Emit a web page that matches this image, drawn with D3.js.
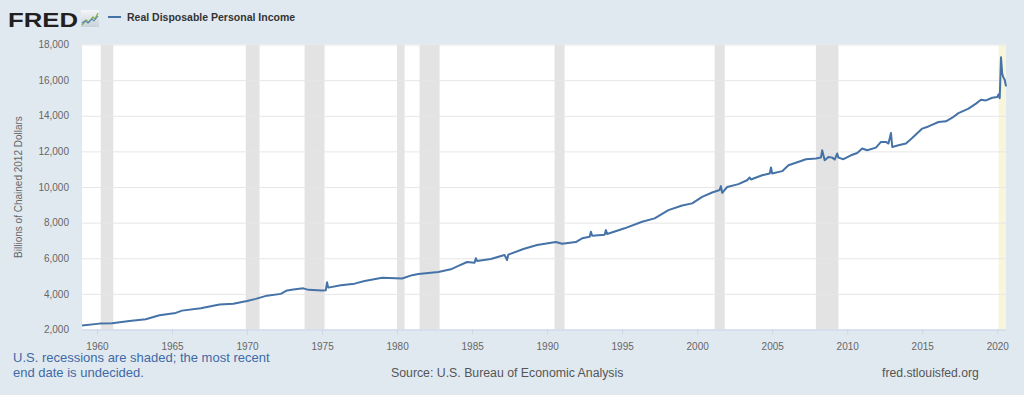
<!DOCTYPE html>
<html>
<head>
<meta charset="utf-8">
<script src="https://cdn.jsdelivr.net/npm/d3@7"></script>
<style>
  body { margin: 0; background: #e1e9f0; }
  svg { display: block; font-family: "Liberation Sans", Arial, Helvetica, sans-serif; }
</style>
</head>
<body>
<svg id="chart" width="1024" height="395"></svg>
<script>
var seriesName = "Real Disposable Personal Income";
var yTitle = "Billions of Chained 2012 Dollars";

var months = [
  "1959-01","1960-03","1961-01","1962-03","1963-04","1964-03","1965-04","1965-09",
  "1966-12","1968-03","1969-02","1970-01","1970-08","1971-05","1972-04","1972-09",
  "1973-02","1973-10","1974-02","1975-01","1975-04","1975-05","1975-06","1976-04",
  "1977-03","1977-11","1979-01","1979-12","1980-05","1981-01","1981-06","1982-10",
  "1983-08","1984-02","1984-09","1985-03","1985-04","1985-05","1986-04","1987-03",
  "1987-05","1987-06","1988-06","1989-05","1990-08","1991-01","1991-12","1992-05",
  "1992-11","1992-12","1993-01","1993-11","1993-12","1994-01","1995-03","1996-05",
  "1997-03","1998-02","1999-01","1999-09","2000-05","2001-01","2001-07","2001-08",
  "2001-09","2002-01","2002-10","2003-05","2003-07","2003-08","2004-05","2004-11",
  "2004-12","2005-01","2005-09","2006-02","2006-12","2007-04","2007-12","2008-04",
  "2008-05","2008-07","2008-10","2009-01","2009-03","2009-05","2009-06","2009-10",
  "2010-04","2010-09","2011-01","2011-05","2011-12","2012-04","2012-08","2012-10",
  "2012-12","2013-01","2013-06","2013-12","2014-05","2015-01","2015-06","2016-02",
  "2016-08","2017-01","2017-06","2018-02","2018-08","2018-12","2019-04","2019-09",
  "2020-01","2020-02","2020-03","2020-04","2020-05","2020-06","2020-07","2020-08"
];
var values = [
  2230, 2330, 2355, 2480, 2580, 2800, 2930, 3060,
  3190, 3400, 3440, 3600, 3720, 3900, 4000, 4190,
  4240, 4310, 4225, 4190, 4200, 4650, 4350, 4480,
  4575, 4725, 4910, 4880, 4860, 5050, 5120, 5230,
  5380, 5570, 5790, 5750, 6000, 5850, 5960, 6185,
  5900, 6200, 6520, 6745, 6910, 6815, 6910, 7120,
  7210, 7490, 7260, 7320, 7580, 7360, 7680, 8050,
  8240, 8700, 8965, 9080, 9450, 9690, 9830, 10050,
  9670, 10000, 10160, 10380, 10530, 10420, 10660, 10760,
  11090, 10760, 10890, 11220, 11460, 11560, 11600, 11650,
  12060, 11500, 11690, 11650, 11540, 11880, 11650, 11560,
  11780, 11910, 12160, 12060, 12210, 12530, 12530, 12440,
  13030, 12250, 12340, 12440, 12750, 13280, 13400, 13650,
  13690, 13890, 14150, 14400, 14680, 14900, 14860, 15010,
  15050, 15200, 14980, 17280, 16360, 16130, 16020, 15650
];

// NBER recessions; the last one has no end date yet
var recStart = ["1960-04","1969-12","1973-11","1980-01","1981-07","1990-07","2001-03","2007-12","2020-02"];
var recEnd   = ["1961-02","1970-11","1975-03","1980-07","1982-11","1991-03","2001-11","2009-06","2020-08"];

var xTickYears = [1960, 1965, 1970, 1975, 1980, 1985, 1990, 1995, 2000, 2005, 2010, 2015, 2020];
var yTicks = [2000, 4000, 6000, 8000, 10000, 12000, 14000, 16000, 18000];

var noteLines = ["U.S. recessions are shaded; the most recent", "end date is undecided."];
var sourceText = "Source: U.S. Bureau of Economic Analysis";
var siteText = "fred.stlouisfed.org";

var plot = {left: 82, right: 1006, top: 44.5, bottom: 329.5};
var parseMonth = d3.timeParse("%Y-%m");

var data = months.map(function(m, i) { return {date: parseMonth(m), value: values[i]}; });

var svg = d3.select("#chart");

var x = d3.scaleTime()
    .domain([parseMonth(months[0]), parseMonth(months[months.length - 1])])
    .range([plot.left, plot.right]);
var y = d3.scaleLinear()
    .domain([yTicks[0], yTicks[yTicks.length - 1]])
    .range([plot.bottom, plot.top]);

// plot background
svg.append("rect")
  .attr("x", plot.left).attr("y", plot.top)
  .attr("width", plot.right - plot.left)
  .attr("height", plot.bottom - plot.top)
  .attr("fill", "#ffffff");

// recession shading
svg.append("g").selectAll("rect")
  .data(recStart)
  .join("rect")
  .attr("x", function(d) { return x(parseMonth(d)); })
  .attr("y", plot.top)
  .attr("width", function(d, i) { return x(parseMonth(recEnd[i])) - x(parseMonth(d)); })
  .attr("height", plot.bottom - plot.top)
  .attr("fill", function(d, i) { return i === recStart.length - 1 ? "#f7f5dc" : "#e3e3e3"; });

// y grid + labels
var yAxis = d3.axisLeft(y)
    .tickValues(yTicks)
    .tickSize(-(plot.right - plot.left))
    .tickPadding(13)
    .tickFormat(d3.format(","));
var gy = svg.append("g")
  .attr("transform", "translate(" + plot.left + ",0)")
  .call(yAxis);
gy.select(".domain").remove();
gy.selectAll(".tick line").attr("stroke", "#e6e6e6").attr("stroke-width", 1);
gy.selectAll(".tick text")
  .attr("fill", "#666")
  .style("font-size", "10px")
  .style("font-family", "Liberation Sans, Arial, sans-serif");

// x axis
var xAxis = d3.axisBottom(x)
    .tickValues(xTickYears.map(function(yr) { return new Date(yr, 0, 1); }))
    .tickSize(5)
    .tickPadding(8)
    .tickFormat(d3.timeFormat("%Y"));
var gx = svg.append("g")
  .attr("transform", "translate(0," + plot.bottom + ")")
  .call(xAxis);
gx.select(".domain").attr("stroke", "#ccd6eb").attr("d", "M" + plot.left + ",0.5H" + plot.right);
gx.selectAll(".tick line").attr("stroke", "#ccd6eb");
gx.selectAll(".tick text")
  .attr("fill", "#666")
  .style("font-size", "10px")
  .style("font-family", "Liberation Sans, Arial, sans-serif");

// series line
var line = d3.line()
    .x(function(d) { return x(d.date); })
    .y(function(d) { return y(d.value); });
svg.append("path")
  .datum(data)
  .attr("fill", "none")
  .attr("stroke", "#4572a7")
  .attr("stroke-width", 2)
  .attr("stroke-linejoin", "round")
  .attr("d", line);

// y axis title
svg.append("text")
  .attr("transform", "translate(22," + ((plot.top + plot.bottom) / 2) + ") rotate(-90)")
  .attr("text-anchor", "middle")
  .attr("fill", "#666")
  .style("font-size", "10px")
  .text(yTitle);

// FRED logo
svg.append("text")
  .attr("x", 8).attr("y", 26.5)
  .attr("font-size", 21).attr("font-weight", 900)
  .attr("fill", "#231f20")
  .attr("textLength", 70).attr("lengthAdjust", "spacingAndGlyphs")
  .text("FRED");
var icon = svg.append("g").attr("transform", "translate(81,10)");
var grad = svg.append("defs").append("linearGradient")
  .attr("id", "logoBg").attr("x1", 0).attr("y1", 0).attr("x2", 0).attr("y2", 1);
grad.append("stop").attr("offset", "0").attr("stop-color", "#f4f6f8");
grad.append("stop").attr("offset", "1").attr("stop-color", "#c9d1d9");
icon.append("rect").attr("width", 18).attr("height", 17).attr("fill", "url(#logoBg)");
icon.append("polyline")
  .attr("points", "1,15 5,10 8,12 12,7 14,9 17,3")
  .attr("fill", "none").attr("stroke", "#7fae4a").attr("stroke-width", 1.3);
icon.append("polyline")
  .attr("points", "1,13 4,11 7,13 11,9 13,11 17,6")
  .attr("fill", "none").attr("stroke", "#5b86b8").attr("stroke-width", 1.1);

// legend
svg.append("line")
  .attr("x1", 108).attr("x2", 121).attr("y1", 17).attr("y2", 17)
  .attr("stroke", "#4572a7").attr("stroke-width", 2);
svg.append("text")
  .attr("x", 127).attr("y", 20.5)
  .attr("fill", "#333")
  .attr("font-weight", "bold")
  .style("font-size", "10.5px")
  .text(seriesName);

// footer
svg.append("g").selectAll("text")
  .data(noteLines)
  .join("text")
  .attr("x", 13)
  .attr("y", function(d, i) { return 362 + i * 15; })
  .attr("fill", "#3e6aa6")
  .style("font-size", "13px")
  .text(function(d) { return d; });
svg.append("text")
  .attr("x", 391).attr("y", 377)
  .attr("fill", "#555")
  .style("font-size", "12.3px")
  .text(sourceText);
svg.append("text")
  .attr("x", 882).attr("y", 377)
  .attr("fill", "#555")
  .style("font-size", "12.2px")
  .text(siteText);
</script>
</body>
</html>
